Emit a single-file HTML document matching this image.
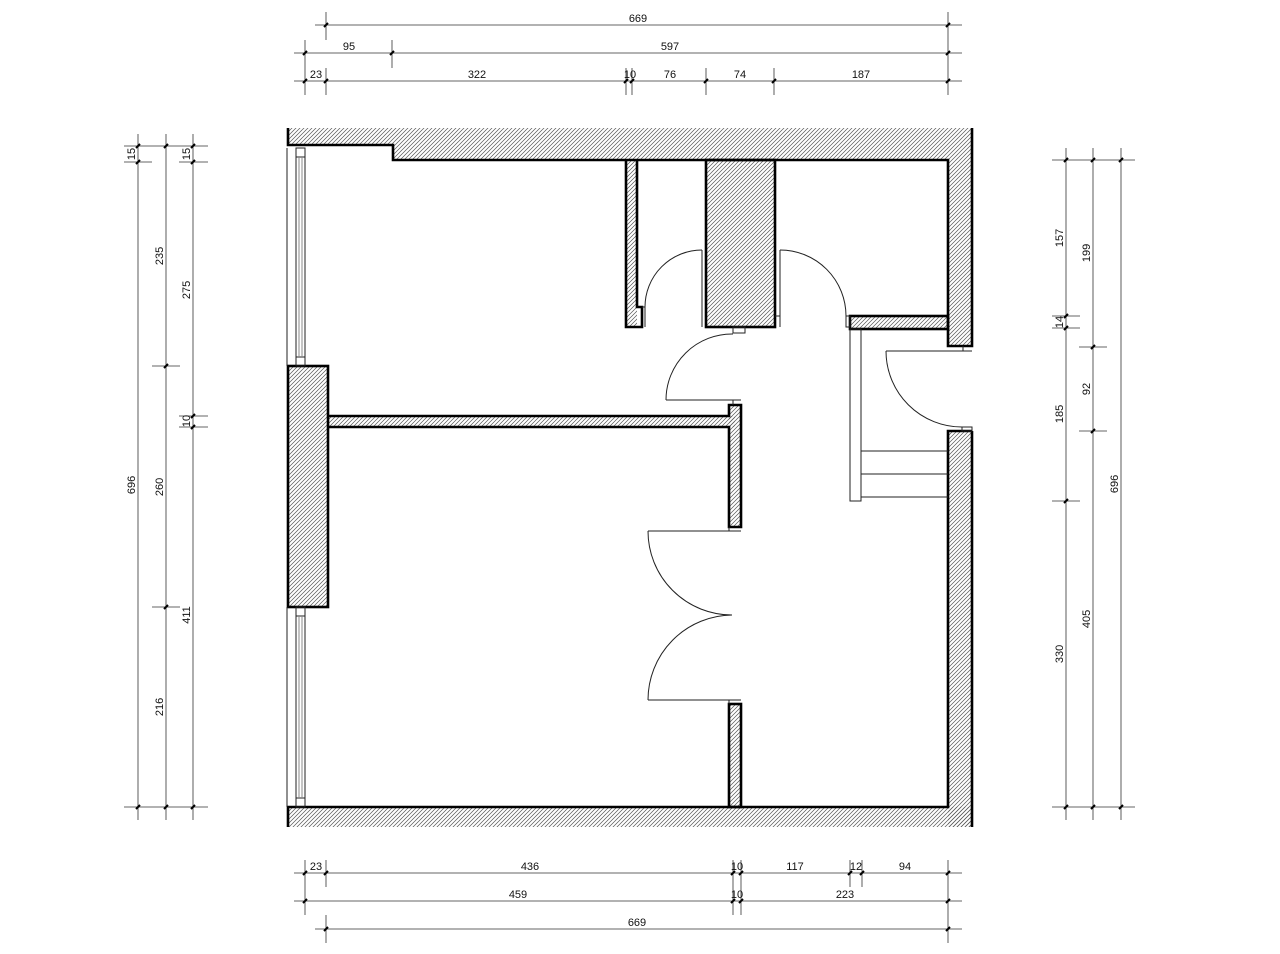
<!DOCTYPE html>
<html><head><meta charset="utf-8"><style>
html,body{margin:0;padding:0;background:#fff;}
svg{display:block;}
text{font-family:"Liberation Sans Narrow","Liberation Sans",sans-serif;font-size:11px;fill:#111;}
</style></head><body>
<svg width="1280" height="954" viewBox="0 0 1280 954" xmlns="http://www.w3.org/2000/svg">
<defs>
<pattern id="h" patternUnits="userSpaceOnUse" width="4" height="4">
<path d="M-1,1 L1,-1 M0,4 L4,0 M3,5 L5,3" stroke="#555" stroke-width="0.7"/>
</pattern>
</defs>
<g fill="url(#h)" stroke="none">
<polygon points="288,128 973,128 973,347 948,347 948,160 393,160 393,145 288,145"/>
<rect x="288" y="807" width="685" height="20"/>
<rect x="948" y="431" width="24" height="396"/>
<rect x="288" y="366" width="40" height="241"/>
<rect x="328" y="416" width="407" height="11"/>
<rect x="729" y="405" width="12" height="122"/>
<rect x="729" y="704" width="12" height="103"/>
<rect x="626" y="160" width="11" height="167"/>
<rect x="706" y="160" width="69" height="167"/>
<rect x="850" y="316" width="98" height="13"/>
</g>
<g fill="none" stroke="#000" stroke-width="2.6" stroke-linejoin="miter">
<polyline points="288,128 288,145 393,145 393,160 948,160 948,346 972,346 972,128"/>
<polyline points="972,431 948,431 948,807 288,807 288,827"/>
<line x1="972" y1="431" x2="972" y2="827"/>
<rect x="288" y="366" width="40" height="241"/>
<polyline points="328,416 729,416 729,405 741,405 741,527 729,527 729,427 328,427"/>
<rect x="729" y="704" width="12" height="103"/>
<polyline points="626,160 626,327 642,327 642,307 637,307 637,160"/>
<rect x="706" y="160" width="69" height="167"/>
<rect x="850" y="316" width="98" height="13"/>
</g>
<g fill="none" stroke="#222" stroke-width="1">
<!-- windows -->
<line x1="287" y1="148" x2="287" y2="366"/>
<rect x="296" y="148" width="9" height="218"/>
<line x1="296" y1="157" x2="305" y2="157"/><line x1="296" y1="357" x2="305" y2="357"/>
<line x1="287" y1="607" x2="287" y2="807"/>
<rect x="296" y="607" width="9" height="200"/>
<line x1="296" y1="616" x2="305" y2="616"/><line x1="296" y1="798" x2="305" y2="798"/>
<g stroke="#888"><line x1="299" y1="157" x2="299" y2="357"/><line x1="302" y1="157" x2="302" y2="357"/>
<line x1="299" y1="616" x2="299" y2="798"/><line x1="302" y1="616" x2="302" y2="798"/></g>
<!-- doors -->
<line x1="702" y1="250" x2="702" y2="327"/><line x1="642" y1="307" x2="645" y2="307"/><line x1="645" y1="307" x2="645" y2="327"/>
<path d="M702,250 A57,57 0 0 0 645,307"/>
<line x1="780" y1="250" x2="780" y2="327"/><line x1="775" y1="316" x2="780" y2="316"/>
<path d="M780,250 A66,66 0 0 1 846,316"/>
<rect x="846" y="316" width="4" height="11"/>
<rect x="733" y="327" width="12" height="6"/>
<line x1="666" y1="400" x2="741" y2="400"/><line x1="733" y1="400" x2="733" y2="405"/>
<path d="M733,334 A66,66 0 0 0 666,400"/>
<line x1="648" y1="531" x2="741" y2="531"/><line x1="729" y1="527" x2="729" y2="531"/>
<path d="M648,531 A84,84 0 0 0 732,615"/>
<line x1="648" y1="700" x2="741" y2="700"/><line x1="729" y1="700" x2="729" y2="704"/>
<path d="M648,700 A85,85 0 0 1 732,615"/>
<line x1="886" y1="351" x2="972" y2="351"/><line x1="963" y1="346" x2="963" y2="351"/>
<path d="M886,351 A76,76 0 0 0 962,427"/>
<rect x="962" y="427" width="10" height="4"/>
<rect x="850" y="329" width="11" height="172"/>
<line x1="861" y1="451" x2="948" y2="451"/><line x1="861" y1="474" x2="948" y2="474"/><line x1="861" y1="497" x2="948" y2="497"/>
</g>
<!-- dimensions -->
<g stroke="#333" stroke-width="0.8" fill="none">
<line x1="315" y1="25" x2="962" y2="25"/><line x1="294" y1="53" x2="962" y2="53"/><line x1="294" y1="81" x2="962" y2="81"/>
<line x1="326" y1="12" x2="326" y2="40"/><line x1="948" y1="12" x2="948" y2="95"/>
<line x1="305" y1="40" x2="305" y2="95"/><line x1="392" y1="40" x2="392" y2="68"/>
<line x1="326" y1="68" x2="326" y2="95"/><line x1="626" y1="68" x2="626" y2="95"/><line x1="632" y1="68" x2="632" y2="95"/><line x1="706" y1="68" x2="706" y2="95"/><line x1="774" y1="68" x2="774" y2="95"/>
<line x1="294" y1="873" x2="962" y2="873"/><line x1="294" y1="901" x2="962" y2="901"/><line x1="315" y1="929" x2="962" y2="929"/>
<line x1="305" y1="860" x2="305" y2="915"/><line x1="326" y1="860" x2="326" y2="887"/><line x1="733" y1="860" x2="733" y2="915"/><line x1="741" y1="860" x2="741" y2="915"/><line x1="850" y1="860" x2="850" y2="887"/><line x1="862" y1="860" x2="862" y2="887"/><line x1="948" y1="860" x2="948" y2="943"/><line x1="326" y1="915" x2="326" y2="943"/>
<line x1="138" y1="134" x2="138" y2="820"/><line x1="166" y1="134" x2="166" y2="820"/><line x1="193" y1="134" x2="193" y2="820"/>
<line x1="124" y1="146" x2="208" y2="146"/><line x1="124" y1="162" x2="152" y2="162"/><line x1="179" y1="162" x2="208" y2="162"/>
<line x1="152" y1="366" x2="180" y2="366"/><line x1="152" y1="607" x2="180" y2="607"/><line x1="179" y1="416" x2="208" y2="416"/><line x1="179" y1="427" x2="208" y2="427"/>
<line x1="124" y1="807" x2="208" y2="807"/>
<line x1="1066" y1="148" x2="1066" y2="820"/><line x1="1093" y1="148" x2="1093" y2="820"/><line x1="1121" y1="148" x2="1121" y2="820"/>
<line x1="1052" y1="160" x2="1135" y2="160"/><line x1="1052" y1="807" x2="1135" y2="807"/>
<line x1="1052" y1="316" x2="1080" y2="316"/><line x1="1052" y1="328" x2="1080" y2="328"/><line x1="1052" y1="501" x2="1080" y2="501"/>
<line x1="1079" y1="347" x2="1107" y2="347"/><line x1="1079" y1="431" x2="1107" y2="431"/>
</g>
<g stroke="#000" stroke-width="2">
<path d="M324,27l4,-4M946,27l4,-4M303,55l4,-4M390,55l4,-4M946,55l4,-4M303,83l4,-4M324,83l4,-4M624,83l4,-4M630,83l4,-4M704,83l4,-4M772,83l4,-4M946,83l4,-4"/>
<path d="M303,875l4,-4M324,875l4,-4M731,875l4,-4M739,875l4,-4M848,875l4,-4M860,875l4,-4M946,875l4,-4M303,903l4,-4M731,903l4,-4M739,903l4,-4M946,903l4,-4M324,931l4,-4M946,931l4,-4"/>
<path d="M136,148l4,-4M136,164l4,-4M136,809l4,-4M164,148l4,-4M164,368l4,-4M164,609l4,-4M164,809l4,-4M191,148l4,-4M191,164l4,-4M191,418l4,-4M191,429l4,-4M191,809l4,-4"/>
<path d="M1064,162l4,-4M1064,318l4,-4M1064,330l4,-4M1064,503l4,-4M1064,809l4,-4M1091,162l4,-4M1091,349l4,-4M1091,433l4,-4M1091,809l4,-4M1119,162l4,-4M1119,809l4,-4"/>
</g>
<g text-anchor="middle">
<text x="638" y="22">669</text>
<text x="349" y="50">95</text><text x="670" y="50">597</text>
<text x="316" y="78">23</text><text x="477" y="78">322</text><text x="630" y="78">10</text><text x="670" y="78">76</text><text x="740" y="78">74</text><text x="861" y="78">187</text>
<text x="316" y="870">23</text><text x="530" y="870">436</text><text x="737" y="870">10</text><text x="795" y="870">117</text><text x="856" y="870">12</text><text x="905" y="870">94</text>
<text x="518" y="898">459</text><text x="737" y="898">10</text><text x="845" y="898">223</text>
<text x="637" y="926">669</text>
<text transform="translate(135,154) rotate(-90)">15</text>
<text transform="translate(135,485) rotate(-90)">696</text>
<text transform="translate(163,256) rotate(-90)">235</text>
<text transform="translate(163,487) rotate(-90)">260</text>
<text transform="translate(163,707) rotate(-90)">216</text>
<text transform="translate(190,154) rotate(-90)">15</text>
<text transform="translate(190,290) rotate(-90)">275</text>
<text transform="translate(190,421) rotate(-90)">10</text>
<text transform="translate(190,615) rotate(-90)">411</text>
<text transform="translate(1063,238) rotate(-90)">157</text>
<text transform="translate(1063,322) rotate(-90)">14</text>
<text transform="translate(1063,414) rotate(-90)">185</text>
<text transform="translate(1063,654) rotate(-90)">330</text>
<text transform="translate(1090,253) rotate(-90)">199</text>
<text transform="translate(1090,389) rotate(-90)">92</text>
<text transform="translate(1090,619) rotate(-90)">405</text>
<text transform="translate(1118,484) rotate(-90)">696</text>
</g>
</svg>
</body></html>
